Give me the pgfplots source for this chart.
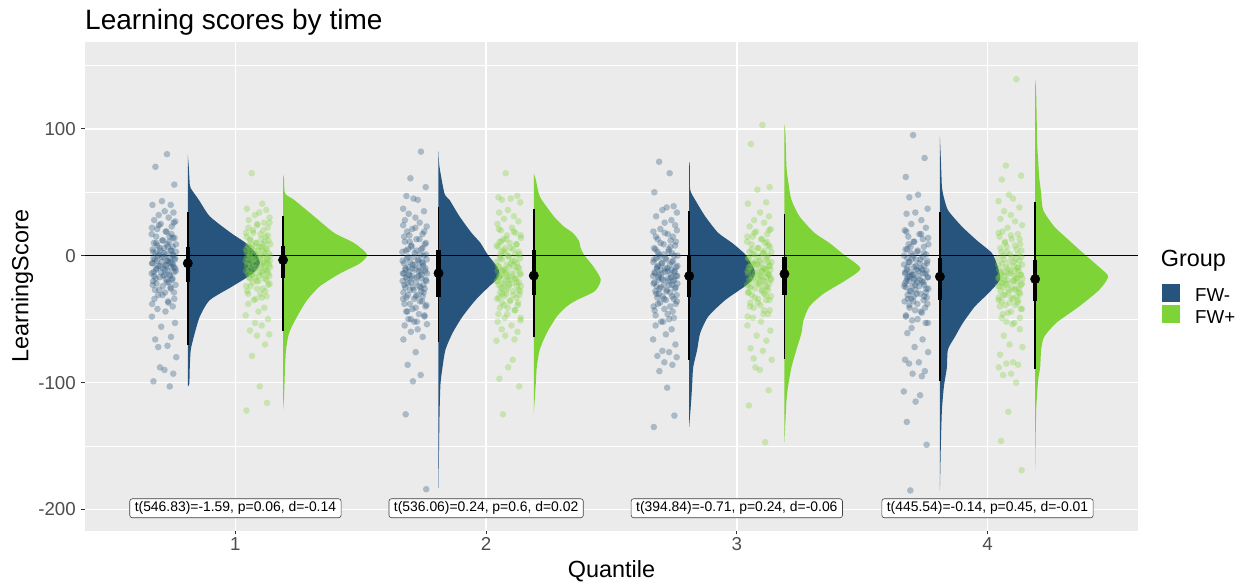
\documentclass[border=0pt]{standalone}
\usepackage{pgfplots}
\pgfplotsset{compat=1.18}
\usepackage{pgfplotstable}
\usepackage{fontspec}
\setmainfont{Liberation Sans}
\definecolor{fwm}{HTML}{26547C}
\definecolor{fwp}{HTML}{7ED336}
\definecolor{panel}{HTML}{EBEBEB}
\definecolor{tickgray}{HTML}{4D4D4D}
\definecolor{tickline}{HTML}{333333}
\newcommand\titlefont{\fontsize{28pt}{33pt}\selectfont}
\newcommand\labfont{\fontsize{23.4pt}{28pt}\selectfont}
\newcommand\tickfont{\fontsize{18.7pt}{22pt}\selectfont}
\newcommand\annfont{\fontsize{13.9pt}{16pt}\selectfont}

% jittered observations, part 1 (outliers and band)
\pgfplotstableread{
d e a1 b1 a2 b2 a3 b3 a4 b4
0.012 -0.025 80 65 82 65 74 103 95 139
-0.034 0.017 70 41 61 47 65 88 77 71
0.041 -0.044 56 37 54 46 50 54 62 63
-0.008 0.033 43 36 47 45 39 52 48 60
0.027 0.005 40 34 45 44 38 42 46 48
-0.046 -0.012 40 32 44 42 36 41 37 45
0.003 0.046 35 30 37 36 34 34 34 43
0.038 -0.037 34 28 35 34 31 31 33 38
-0.021 0.024 32 26 33 31 28 28 28 35
0.019 -0.003 30 24 30 29 26 26 25 32
-0.039 0.039 28 22 28 27 24 23 22 29
0.045 -0.020 27 20 26 25 21 21 20 27
-0.013 -0.048 25 18 23 22 19 19 17 24
0.031 0.010 23 17 21 20 17 17 15 22
-0.027 0.030 21 15 19 18 15 15 13 19
0.007 -0.031 19 13 17 16 13 13 11 17
-0.049 0.042 17 12 15 14 11 11 9 15
0.022 -0.007 15 10 13 13 9 10 7 13
0.036 0.020 14 9 11 11 7 8 5 11
-0.004 -0.040 12 8 9 10 5 6 3 9
-0.031 0.013 10 7 7 9 3 5 2 7
0.048 -0.026 9 6 5 8 1 3 0 5
0.015 0.035 7 5 4 6 0 2 -2 3
-0.018 0.000 6 4 2 5 -2 1 -3 1
0.029 -0.045 4 3 1 3 -3 -1 -5 -1
-0.043 0.026 3 2 -1 1 -5 -2 -6 -3
0.001 -0.014 2 1 -3 0 -6 -4 -8 -5
0.034 0.048 1 0 -4 -2 -8 -5 -9 -7
-0.024 -0.033 0 -1 -6 -4 -9 -6 -11 -9
-0.009 0.008 -1 -2 -7 -6 -10 -7 -12 -10
0.043 -0.019 -2 -3 -9 -8 -11 -8 -13 -12
-0.036 0.037 -3 -3 -10 -9 -12 -9 -14 -13
0.016 -0.001 -4 -4 -11 -11 -13 -10 -15 -14
0.025 -0.042 -5 -5 -12 -12 -14 -11 -16 -15
-0.047 0.022 -6 -6 -13 -14 -15 -12 -17 -16
0.009 0.044 -7 -7 -14 -15 -16 -13 -18 -17
-0.015 -0.028 -8 -8 -15 -16 -17 -14 -19 -18
0.039 0.011 -9 -9 -16 -17 -18 -15 -20 -19
-0.029 -0.010 -10 -10 -17 -18 -19 -16 -21 -20
0.004 0.031 -11 -11 -18 -19 -20 -17 -23 -21
0.047 -0.047 -12 -12 -20 -20 -22 -18 -24 -22
-0.041 0.016 -13 -13 -21 -21 -23 -19 -26 -23
0.021 0.041 -15 -14 -23 -22 -25 -20 -28 -24
-0.002 -0.023 -16 -15 -25 -23 -26 -22 -30 -26
-0.033 0.004 -18 -16 -27 -24 -28 -24 -32 -27
0.032 -0.036 -19 -17 -29 -25 -30 -25 -34 -29
0.011 0.027 -21 -18 -31 -27 -32 -27 -36 -31
-0.045 -0.005 -23 -20 -32 -28 -34 -29 -38 -33
0.026 0.046 -25 -22 -34 -30 -36 -31 -41 -35
-0.019 -0.030 -27 -24 -36 -31 -38 -33 -44 -37
0.040 0.019 -29 -26 -38 -33 -40 -35 -47 -39
-0.006 -0.043 -31 -28 -40 -35 -43 -37 -50 -42
-0.038 0.009 -34 -30 -42 -37 -46 -40 -53 -45
0.018 0.034 -37 -32 -44 -39 -49 -43 -57 -49
0.035 -0.017 -40 -35 -46 -41 -52 -46 -61 -53
-0.026 -0.039 -42 -38 -48 -43 -55 -49 -66 -58
0.006 0.025 -44 -41 -50 -46 -58 -52 -72 -63
-0.048 0.002 -48 -44 -52 -49 -62 -55 -76 -70
0.044 -0.049 -53 -47 -54 -52 -66 -59 -82 -72
-0.011 0.040 -56 -50 -55 -55 -70 -63 -84 -78
0.028 -0.012 -64 -53 -58 -58 -75 -67 -85 -84
-0.035 0.015 -66 -55 -60 -60 -76 -73 -91 -85
0.014 -0.032 -71 -59 -64 -63 -79 -75 -93 -86
-0.023 0.045 -72 -62 -66 -66 -80 -81 -95 -88
0.049 -0.004 -80 -63 -76 -67 -84 -82 -107 -93
-0.016 0.028 -88 -70 -86 -82 -86 -88 -110 -94
0.002 -0.024 -90 -79 -94 -88 -91 -90 -115 -100
0.037 0.007 -93 -103 -99 -97 -104 -106 -131 -123
-0.042 0.036 -99 -116 -125 -103 -126 -118 -149 -146
0.023 -0.046 -103 -122 -184 -125 -135 -147 -185 -169
}\pts

% jittered observations, part 2 (dense central band)
\pgfplotstableread{
d e a1 b1 a2 b2 a3 b3 a4 b4
0.039 0.046 26 26 24 21 20 20 19 18
-0.020 -0.003 24 25 22 19 18 18 17 16
-0.048 -0.038 22 22 19 16 15 15 14 13
0.010 0.021 19 20 16 13 12 13 11 10
0.030 -0.019 17 18 13 11 10 11 9 8
-0.031 0.039 15 16 11 9 8 9 7 6
0.042 -0.045 14 15 10 7 6 7 5 4
-0.007 0.013 12 13 8 6 5 6 4 3
0.020 -0.031 11 12 6 4 3 4 2 1
-0.040 0.027 10 11 5 3 2 3 1 0
0.013 -0.007 9 10 4 2 1 2 0 -1
-0.026 0.049 8 9 3 1 0 1 -1 -2
0.035 -0.022 7 8 1 0 -1 0 -2 -3
0.000 -0.036 6 7 0 -1 -2 -1 -3 -4
-0.045 0.004 5 7 -1 -2 -3 -2 -4 -5
0.026 0.031 4 6 -2 -3 -4 -3 -5 -6
-0.014 -0.048 4 5 -3 -4 -5 -4 -6 -7
0.048 -0.015 3 4 -4 -5 -6 -5 -7 -8
-0.033 0.018 2 4 -5 -6 -7 -6 -8 -9
0.008 -0.029 1 3 -5 -7 -8 -6 -9 -10
-0.019 0.043 1 2 -6 -8 -9 -7 -10 -11
0.037 -0.001 0 1 -7 -9 -10 -8 -11 -12
-0.001 -0.034 -1 1 -8 -9 -10 -9 -11 -12
-0.042 0.024 -2 0 -9 -10 -11 -9 -12 -13
0.022 0.009 -2 -1 -10 -11 -12 -10 -13 -14
0.044 -0.043 -3 -1 -10 -12 -13 -11 -14 -15
-0.028 0.036 -4 -2 -11 -12 -13 -11 -14 -15
0.011 -0.016 -4 -3 -12 -13 -14 -12 -15 -16
-0.010 -0.025 -5 -3 -13 -14 -15 -13 -16 -17
0.031 0.047 -6 -4 -14 -15 -16 -14 -17 -18
-0.047 -0.009 -38 -34 -52 -51 -52 -48 -53 -54
0.016 0.015 -36 -33 -50 -49 -50 -46 -51 -52
0.041 -0.039 -34 -30 -47 -46 -47 -43 -48 -49
-0.023 0.029 -31 -28 -44 -43 -44 -41 -45 -46
0.004 -0.004 -29 -26 -41 -41 -42 -39 -43 -44
-0.036 -0.047 -27 -24 -39 -39 -40 -37 -41 -42
0.027 0.041 -26 -23 -38 -37 -38 -35 -39 -40
-0.005 -0.021 -24 -21 -36 -36 -37 -34 -38 -39
0.046 0.002 -23 -20 -34 -34 -35 -32 -36 -37
-0.030 0.033 -22 -19 -33 -33 -34 -31 -35 -36
0.019 -0.032 -21 -18 -32 -32 -33 -30 -34 -35
-0.043 -0.011 -20 -17 -31 -31 -32 -29 -33 -34
0.009 0.045 -19 -16 -29 -30 -31 -28 -32 -33
0.034 -0.026 -18 -15 -28 -29 -30 -27 -31 -32
-0.017 0.019 -17 -15 -27 -28 -29 -26 -30 -31
-0.039 -0.040 -16 -14 -26 -27 -28 -25 -29 -30
0.025 0.006 -16 -13 -25 -26 -27 -24 -28 -29
0.002 0.038 -15 -12 -25 -25 -26 -23 -27 -28
-0.049 -0.018 -14 -12 -24 -24 -25 -23 -26 -27
0.040 -0.035 -13 -11 -23 -23 -24 -22 -25 -26
-0.012 0.026 -13 -10 -22 -22 -23 -21 -24 -25
0.015 -0.006 -12 -9 -21 -22 -23 -20 -24 -25
-0.032 0.048 -11 -9 -20 -21 -22 -19 -23 -24
0.045 -0.044 -10 -8 -19 -20 -21 -19 -22 -23
-0.004 0.011 -10 -7 -18 -19 -20 -18 -21 -22
0.028 -0.028 -9 -7 -18 -18 -19 -17 -20 -21
-0.024 0.035 -8 -6 -17 -18 -19 -17 -20 -21
0.007 -0.014 -8 -6 -16 -17 -18 -16 -19 -20
0.036 0.023 -7 -5 -15 -16 -17 -15 -18 -19
-0.046 -0.049 -6 -4 -14 -15 -16 -14 -17 -18
}\ptsb

% half-violins: value v, half-width w in pixels of the reference
\pgfplotstableread{
v w
80 0
70 1
56 2
53 3
44 11
31 22
18 43
10 58
2 68
-6 72
-14 65
-24 45
-35 22
-48 12
-61 7
-74 3
-88 2
-101 1.5
-103 0
}\vmA
\pgfplotstableread{
v w
64 0
60 1
49 2
44 11
31 31
18 51
10 71
1 84
-6 77
-14 57
-24 37
-35 24
-48 14
-61 6
-74 3
-88 2
-110 1
-122 0
}\vpA
\pgfplotstableread{
v w
82 0
70 1
49 6
44 11
31 21
18 33
10 42
1 49
-9 59
-14 61
-19 58
-24 51
-35 37
-48 24
-61 14
-74 7
-88 4
-101 2
-127 1
-183 0
}\vmB
\pgfplotstableread{
v w
65 0
60 2
49 5
44 8
31 20
23 30
18 39
12 45
6 47
1 50
-9 60
-19 67
-28 61
-35 43
-40 33
-48 23
-61 13
-74 6
-88 3
-101 2
-125 0
}\vpB
\pgfplotstableread{
v w
74 0
70 0.7
52 1
44 6
31 16
18 29
10 43
1 56
-9 64
-14 66
-19 63
-24 56
-35 36
-48 19
-61 11
-74 8
-88 4
-101 3
-114 2
-135 0
}\vmC
\pgfplotstableread{
v w
103 0
96 1
70 2
57 4
44 7
31 15
18 30
10 45
1 59
-10 76
-19 62
-30 39
-40 25
-51 19
-61 17
-74 12
-88 7
-101 4
-114 2
-147 0
}\vpC
\pgfplotstableread{
v w
94 0
75 1
54 2
49 3
36 8
23 22
12 37
2 52
-9 58
-19 60
-30 48
-40 35
-53 23
-64 15
-74 8
-88 7
-103 4
-122 2
-148 1
-185 0
}\vmD
\pgfplotstableread{
v w
139 0
128 1
89 2
75 3
62 4
49 6
36 8
23 19
12 34
2 48
-9 64
-16.5 73
-27 64
-40 44
-53 21
-64 9
-74 6
-88 5
-98 3
-122 1
-169 0
}\vpD

\begin{document}
\begin{tikzpicture}
\path[use as bounding box] (0,0) rectangle (1247pt,584pt);
\begin{axis}[
  at={(85pt,53.3pt)}, anchor=south west,
  scale only axis, width=1053pt, height=489pt,
  xmin=0.4, xmax=4.6, ymin=-216.7, ymax=168.6,
  axis background/.style={fill=panel},
  axis line style={draw=none},
  xtick={1,2,3,4}, xticklabels={1,2,3,4},
  ytick={-200,-100,0,100}, yticklabels={-200,-100,0,100},
  minor ytick={-150,-50,50,150},
  xmajorgrids, ymajorgrids, yminorgrids,
  major grid style={white, line width=1.6pt},
  minor grid style={white, line width=0.8pt},
  xtick pos=bottom, ytick pos=left,
  tick align=outside, major tick length=3.7pt, minor tick length=0pt,
  tick style={tickline, line width=1.1pt},
  yticklabel style={font=\tickfont, text=tickgray, inner sep=0pt, xshift=-5.3pt},
  xticklabel style={font=\tickfont, text=tickgray, inner sep=0pt, yshift=-2.6pt},
  clip=true,
]
% violins
\addplot[smooth, tension=0.4, fill=fwm, draw=none] table[x expr=0.81+\thisrow{w}/250.7, y=v]{\vmA};
\addplot[smooth, tension=0.4, fill=fwm, draw=none] table[x expr=1.81+\thisrow{w}/250.7, y=v]{\vmB};
\addplot[smooth, tension=0.4, fill=fwm, draw=none] table[x expr=2.81+\thisrow{w}/250.7, y=v]{\vmC};
\addplot[smooth, tension=0.4, fill=fwm, draw=none] table[x expr=3.81+\thisrow{w}/250.7, y=v]{\vmD};
\addplot[smooth, tension=0.4, fill=fwp, draw=none] table[x expr=1.19+\thisrow{w}/250.7, y=v]{\vpA};
\addplot[smooth, tension=0.4, fill=fwp, draw=none] table[x expr=2.19+\thisrow{w}/250.7, y=v]{\vpB};
\addplot[smooth, tension=0.4, fill=fwp, draw=none] table[x expr=3.19+\thisrow{w}/250.7, y=v]{\vpC};
\addplot[smooth, tension=0.4, fill=fwp, draw=none] table[x expr=4.19+\thisrow{w}/250.7, y=v]{\vpD};
% jittered points
\pgfplotsset{ptm/.style={color=fwm, only marks, mark=*, mark size=3.3pt, mark options={fill=fwm, draw opacity=0, fill opacity=0.33}},
             ptp/.style={color=fwp, only marks, mark=*, mark size=3.3pt, mark options={fill=fwp, draw opacity=0, fill opacity=0.33}}}
\addplot[ptm] table[x expr=0.715+\thisrow{d}, y=a1]{\pts};
\addplot[ptm] table[x expr=1.715-\thisrow{e}, y=a2]{\pts};
\addplot[ptm] table[x expr=2.715+\thisrow{e}, y=a3]{\pts};
\addplot[ptm] table[x expr=3.715-\thisrow{d}, y=a4]{\pts};
\addplot[ptp] table[x expr=1.09+\thisrow{e}, y=b1]{\pts};
\addplot[ptp] table[x expr=2.09-\thisrow{d}, y=b2]{\pts};
\addplot[ptp] table[x expr=3.09+\thisrow{d}, y=b3]{\pts};
\addplot[ptp] table[x expr=4.09-\thisrow{e}, y=b4]{\pts};
\addplot[ptm] table[x expr=0.715+\thisrow{d}, y=a1]{\ptsb};
\addplot[ptm] table[x expr=1.715-\thisrow{e}, y=a2]{\ptsb};
\addplot[ptm] table[x expr=2.715+\thisrow{e}, y=a3]{\ptsb};
\addplot[ptm] table[x expr=3.715-\thisrow{d}, y=a4]{\ptsb};
\addplot[ptp] table[x expr=1.09+\thisrow{e}, y=b1]{\ptsb};
\addplot[ptp] table[x expr=2.09-\thisrow{d}, y=b2]{\ptsb};
\addplot[ptp] table[x expr=3.09+\thisrow{d}, y=b3]{\ptsb};
\addplot[ptp] table[x expr=4.09-\thisrow{e}, y=b4]{\ptsb};
% zero line
\addplot[black, line width=1.2pt] coordinates {(0.4,0) (4.6,0)};
% 95% intervals
\pgfplotsset{thin/.style={black, line width=1.8pt}, thick/.style={black, line width=4.2pt}}
\addplot[thin] coordinates {(0.81,34.7) (0.81,-70.4)};
\addplot[thin] coordinates {(1.81,38.1) (1.81,-67.8)};
\addplot[thin] coordinates {(2.81,35.2) (2.81,-82.2)};
\addplot[thin] coordinates {(3.81,34.7) (3.81,-98.5)};
\addplot[thin] coordinates {(1.19,31.3) (1.19,-59.1)};
\addplot[thin] coordinates {(2.19,36.5) (2.19,-64.3)};
\addplot[thin] coordinates {(3.19,32.6) (3.19,-81.6)};
\addplot[thin] coordinates {(4.19,42.6) (4.19,-89.5)};
% 66% intervals
\addplot[thick] coordinates {(0.81,7.1) (0.81,-20.5)};
\addplot[thick] coordinates {(1.81,4.5) (1.81,-32.3)};
\addplot[thick] coordinates {(2.81,0.5) (2.81,-32.3)};
\addplot[thick] coordinates {(3.81,-2.1) (3.81,-34.9)};
\addplot[thick] coordinates {(1.19,7.9) (1.19,-17.8)};
\addplot[thick] coordinates {(2.19,4.5) (2.19,-31)};
\addplot[thick] coordinates {(3.19,-0.8) (3.19,-31)};
\addplot[thick] coordinates {(4.19,-3.5) (4.19,-35.5)};
% medians
\addplot[black, only marks, mark=*, mark size=4.7pt] coordinates {
(0.81,-6) (1.81,-13.9) (2.81,-16) (3.81,-16.5) (1.19,-3.4) (2.19,-15.7) (3.19,-14.4) (4.19,-18.4)};
% test labels
\tikzset{lab/.style={draw=black!75, fill=white, rounded corners=2.5pt, line width=0.6pt, inner xsep=5pt, inner ysep=3pt, font=\annfont}}
\node[lab] at (axis cs:1,-199) {t(546.83)=-1.59, p=0.06, d=-0.14};
\node[lab] at (axis cs:2,-199) {t(536.06)=0.24, p=0.6, d=0.02};
\node[lab] at (axis cs:3,-199) {t(394.84)=-0.71, p=0.24, d=-0.06};
\node[lab] at (axis cs:4,-199) {t(445.54)=-0.14, p=0.45, d=-0.01};
\end{axis}
\node[anchor=base west, font=\titlefont, inner sep=0pt] at (85pt,554pt) {Learning scores by time};
\node[anchor=base, font=\labfont, inner sep=0pt] at (611.5pt,6.3pt) {Quantile};
\node[anchor=base, rotate=90, font=\labfont, inner sep=0pt] at (28.3pt,298pt) {LearningScore};
\node[anchor=base west, font=\labfont, inner sep=0pt] at (1160.7pt,317.3pt) {Group};
\fill[fwm] (1161.5pt,281.5pt) rectangle (1180pt,299.5pt);
\fill[fwp] (1161.5pt,260.5pt) rectangle (1180pt,278.5pt);
\node[anchor=base west, font=\tickfont, inner sep=0pt] at (1195pt,282.3pt) {FW-};
\node[anchor=base west, font=\tickfont, inner sep=0pt] at (1195pt,260pt) {FW+};
\end{tikzpicture}
\end{document}
